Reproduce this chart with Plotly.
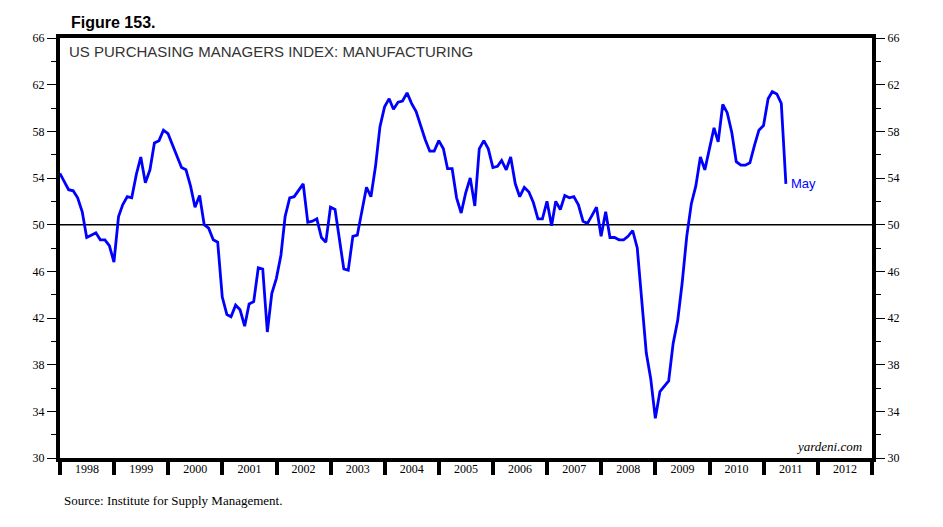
import pandas as pd
import plotly.graph_objects as go

# Monthly ISM manufacturing PMI, Dec 1997 - May 2011 (plotted at month end)
start_month = "1997-12"
end_month = "2011-05"
pmi = [
    54.4,
    53.7, 53.0, 52.9, 52.3, 51.1, 48.9, 49.1, 49.3, 48.7, 48.7, 48.2, 46.8,   # 1998
    50.7, 51.7, 52.4, 52.3, 54.3, 55.8, 53.6, 54.7, 57.0, 57.2, 58.1, 57.8,   # 1999
    56.8, 55.8, 54.9, 54.7, 53.3, 51.5, 52.5, 50.0, 49.7, 48.7, 48.5, 43.8,   # 2000
    42.3, 42.1, 43.1, 42.7, 41.3, 43.2, 43.4, 46.3, 46.2, 40.8, 44.1, 45.4,   # 2001
    47.4, 50.7, 52.3, 52.4, 53.0, 53.5, 50.2, 50.3, 50.5, 48.9, 48.5, 51.5,   # 2002
    51.3, 49.0, 46.2, 46.1, 49.0, 49.1, 51.3, 53.2, 52.4, 55.0, 58.4, 60.1,   # 2003
    60.8, 59.9, 60.5, 60.6, 61.3, 60.4, 59.7, 58.4, 57.3, 56.3, 56.3, 57.2,   # 2004
    56.5, 54.8, 54.8, 52.3, 51.0, 52.7, 54.0, 51.6, 56.5, 57.2, 56.5, 54.9,   # 2005
    55.0, 55.5, 54.7, 55.8, 53.5, 52.4, 53.2, 52.8, 51.9, 50.5, 50.5, 52.0,   # 2006
    49.9, 52.0, 51.3, 52.5, 52.3, 52.4, 51.7, 50.3, 50.1, 50.8, 51.5, 49.0,   # 2007
    51.1, 48.9, 48.9, 48.7, 48.7, 49.0, 49.5, 48.0, 43.4, 39.0, 36.8, 33.4,   # 2008
    35.7, 36.1, 36.6, 39.8, 41.8, 45.0, 49.0, 51.8, 53.3, 55.8, 54.7, 56.5,   # 2009
    58.3, 57.1, 60.3, 59.6, 57.9, 55.4, 55.1, 55.1, 55.3, 56.8, 58.1, 58.5,   # 2010
    60.8, 61.4, 61.2, 60.4, 53.5,                                             # 2011
]
dates = pd.period_range(start_month, end_month, freq="M").to_timestamp(how="end").normalize()

year_start = "1998-01-01"
year_end = "2013-01-01"
y_min, y_max = 30, 66
ref_level = 50
last_label = "May"

fig = go.Figure()
fig.add_trace(go.Scatter(x=dates, y=pmi, mode="lines",
                         line=dict(color="#0000FF", width=2.8),
                         hoverinfo="skip", showlegend=False))
fig.add_trace(go.Scatter(x=dates, y=pmi, mode="lines", yaxis="y2",
                         line=dict(color="rgba(0,0,0,0)", width=0),
                         hoverinfo="skip", showlegend=False))

fig.add_shape(type="line", xref="paper", x0=0, x1=1, yref="y", y0=ref_level, y1=ref_level,
              line=dict(color="black", width=1.5), layer="below")

yax = dict(range=[y_min, y_max], tick0=y_min, dtick=4, ticks="outside", ticklen=9,
           tickwidth=1, tickcolor="black", showgrid=False, zeroline=False,
           showline=True, linewidth=4, linecolor="black",
           tickfont=dict(family="Liberation Serif", size=12, color="black"),
           minor=dict(tick0=y_min, dtick=2, ticks="outside", ticklen=5, tickwidth=1,
                      tickcolor="black", showgrid=False))

fig.update_layout(
    width=943, height=527,
    margin=dict(l=52, r=79, t=30, b=77),
    paper_bgcolor="white", plot_bgcolor="white",
    xaxis=dict(range=[year_start, year_end], tick0=year_start, dtick="M12",
               tickformat="%Y", ticklabelmode="period", ticks="outside",
               ticklen=13, tickwidth=4, tickcolor="black", ticklabelstandoff=-16,
               showgrid=False, zeroline=False, showline=True, linewidth=4,
               linecolor="black", mirror=True,
               tickfont=dict(family="Liberation Serif", size=12, color="black")),
    yaxis=dict(yax, side="left"),
    yaxis2=dict(yax, side="right", overlaying="y", anchor="x"),
    annotations=[
        dict(text="<b>Figure 153.</b>", xref="paper", yref="paper", x=0.011, y=1.036,
             xanchor="left", yanchor="middle", showarrow=False,
             font=dict(family="Liberation Sans", size=16, color="black")),
        dict(text="US PURCHASING MANAGERS INDEX: MANUFACTURING", xref="paper", yref="paper",
             x=0.009, y=0.992, xanchor="left", yanchor="top", showarrow=False,
             font=dict(family="Liberation Sans", size=15, color="#333333")),
        dict(text="<i>yardeni.com</i>", xref="paper", yref="paper", x=0.99, y=0.005,
             xanchor="right", yanchor="bottom", showarrow=False,
             font=dict(family="Liberation Serif", size=13, color="black")),
        dict(text="Source: Institute for Supply Management.", xref="paper", yref="paper",
             x=0.002, y=-0.1, xanchor="left", yanchor="middle", showarrow=False,
             font=dict(family="Liberation Serif", size=13, color="black")),
        dict(text=last_label, x=dates[-1], y=pmi[-1], xref="x", yref="y",
             xanchor="left", yanchor="middle", xshift=3, showarrow=False,
             font=dict(family="Liberation Sans", size=13, color="#0000FF")),
    ],
)

fig.write_html("out.html")
